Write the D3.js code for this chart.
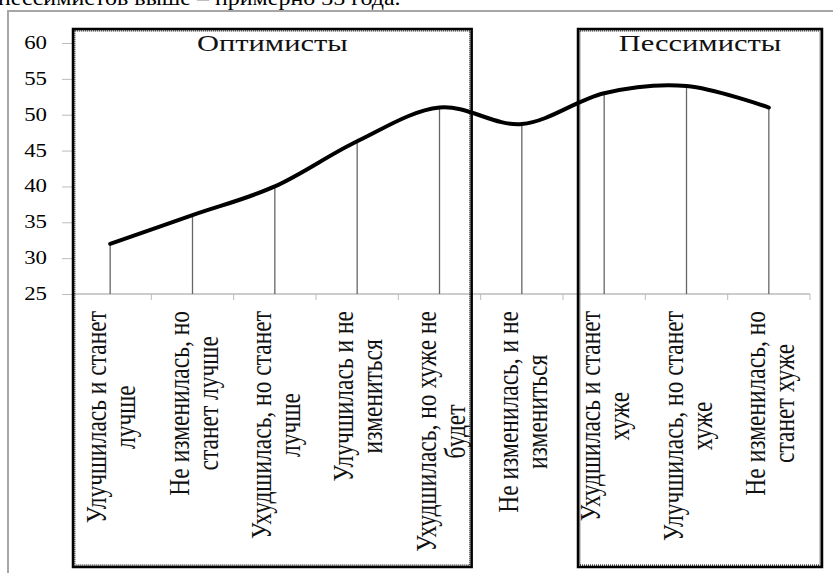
<!DOCTYPE html>
<html>
<head>
<meta charset="utf-8">
<script src="https://cdn.jsdelivr.net/npm/d3@7"></script>
<style>
  body { margin: 0; background: #fff; }
  svg { display: block; font-family: "Liberation Serif", "Times New Roman", serif; }
</style>
</head>
<body>
<div id="chart"></div>
<script>
var svgWidth = 833;
var svgHeight = 573;

// data
var categories = [
    ["Улучшилась и станет", "лучше"],
    ["Не изменилась, но", "станет лучше"],
    ["Ухудшилась, но станет", "лучше"],
    ["Улучшилась и не", "измениться"],
    ["Ухудшилась, но хуже не", "будет"],
    ["Не изменилась, и не", "измениться"],
    ["Ухудшилась и станет", "хуже"],
    ["Улучшилась, но станет", "хуже"],
    ["Не изменилась, но", "станет хуже"]
];
var values = [32, 36, 40, 46.3, 51, 48.7, 53, 54, 51];
var yTicks = [25, 30, 35, 40, 45, 50, 55, 60];
var groupNames = ["Оптимисты", "Пессимисты"];
var headerText = "пессимистов выше – примерно 35 года.";

var stretch = 1.27;

var svg = d3.select("#chart")
    .append("svg")
    .attr("width", svgWidth)
    .attr("height", svgHeight);

// cropped text line above the chart
svg.append("text")
    .attr("transform", "translate(-2, 5) scale(1.2,1)")
    .attr("font-size", 20)
    .attr("fill", "#000")
    .text(headerText);

// chart frame
svg.append("rect")
    .attr("x", 8)
    .attr("y", 11)
    .attr("width", 900)
    .attr("height", 700)
    .attr("fill", "none")
    .attr("stroke", "#a6a6a6")
    .attr("stroke-width", 2);

var idx = d3.range(categories.length);

var x = d3.scaleBand()
    .domain(idx)
    .range([69, 810]);

var y = d3.scaleLinear()
    .domain([25, 60])
    .range([294, 43]);

function cx(i) { return x(i) + x.bandwidth() / 2; }

// y axis ticks and labels
var yAxis = svg.append("g")
    .attr("transform", "translate(73,0)")
    .call(d3.axisLeft(y).tickValues(yTicks).tickSize(11).tickFormat(""));
yAxis.select(".domain").attr("stroke", "#bbb");
yAxis.selectAll(".tick line").attr("stroke", "#bbb");

svg.append("g").selectAll("text")
    .data(yTicks)
    .enter()
    .append("text")
    .attr("transform", d => "translate(47," + (y(d) + 6) + ") scale(" + stretch + ",1)")
    .attr("text-anchor", "end")
    .attr("font-size", 18)
    .text(d => d);

// x axis with ticks between categories
var xAxis = svg.append("g")
    .attr("transform", "translate(0," + y(25) + ")");
xAxis.append("line")
    .attr("x1", 73)
    .attr("x2", x.range()[1])
    .attr("stroke", "#bbb")
    .attr("stroke-width", 1.5);
xAxis.selectAll(".sep")
    .data(d3.range(1, categories.length + 1))
    .enter()
    .append("line")
    .attr("x1", d => x.range()[0] + d * x.bandwidth())
    .attr("x2", d => x.range()[0] + d * x.bandwidth())
    .attr("y1", 0)
    .attr("y2", 6)
    .attr("stroke", "#bbb");

// drop lines
svg.append("g").selectAll("line")
    .data(values)
    .enter()
    .append("line")
    .attr("x1", (d, i) => cx(i))
    .attr("x2", (d, i) => cx(i))
    .attr("y1", d => y(d))
    .attr("y2", y(25))
    .attr("stroke", "#666")
    .attr("stroke-width", 1.3);

// smoothed line
var line = d3.line()
    .x((d, i) => cx(i))
    .y(d => y(d))
    .curve(d3.curveCardinal.tension(0));

svg.append("path")
    .datum(values)
    .attr("d", line)
    .attr("fill", "none")
    .attr("stroke", "#000")
    .attr("stroke-width", 4)
    .attr("stroke-linecap", "round");

// category labels, rotated
var labels = svg.append("g").selectAll("g")
    .data(categories)
    .enter()
    .append("g");

labels.each(function(lines, i) {
    var g = d3.select(this);
    var texts = g.selectAll("text")
        .data(lines)
        .enter()
        .append("text")
        .attr("font-size", 23.5)
        .attr("text-anchor", "middle")
        .attr("fill", "#111")
        .text(d => d);
    var maxLen = d3.max(texts.nodes(), n => n.getComputedTextLength());
    var mid = 311 + maxLen / 2;
    texts.attr("transform", (d, k) =>
        "translate(" + (cx(i) - 4 + k * 29) + "," + mid + ") scale(" + stretch + ",1) rotate(-90)");
});

// group boxes
var boxes = [
    {name: groupNames[0], x0: x(0) + 4, x1: x(4) + x.bandwidth() - 9},
    {name: groupNames[1], x0: x(6) + 15, x1: x(8) + x.bandwidth() + 12}
];

var boxGroup = svg.append("g").selectAll("g")
    .data(boxes)
    .enter()
    .append("g");

boxGroup.append("rect")
    .attr("x", d => d.x0)
    .attr("y", 29)
    .attr("width", d => d.x1 - d.x0)
    .attr("height", 538)
    .attr("fill", "none")
    .attr("stroke", "#000")
    .attr("stroke-width", 2.5);

boxGroup.append("rect")
    .attr("x", d => d.x0 + 1.8)
    .attr("y", 30.8)
    .attr("width", d => d.x1 - d.x0 - 3.6)
    .attr("height", 534.4)
    .attr("fill", "none")
    .attr("stroke", "#000")
    .attr("stroke-width", 1.2)
    .attr("stroke-dasharray", "1,1");

boxGroup.append("text")
    .attr("transform", d => "translate(" + ((d.x0 + d.x1) / 2) + ",51) scale(" + stretch + ",1)")
    .attr("text-anchor", "middle")
    .attr("font-size", 24)
    .attr("fill", "#111")
    .text(d => d.name);
</script>
</body>
</html>
